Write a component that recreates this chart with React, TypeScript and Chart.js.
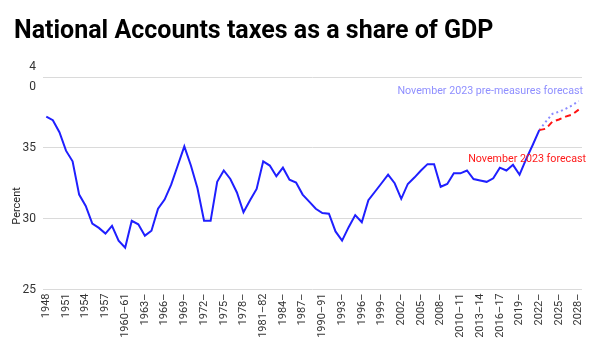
import { useEffect, useRef } from "react";
import { Chart, registerables } from "chart.js";

Chart.register(...registerables);

const TITLE = "National Accounts taxes as a share of GDP";
const Y_TITLE = "Percent";

const categories = [
  "1948", "1949", "1950", "1951", "1952", "1953", "1954", "1955", "1956", "1957", "1958", "1959",
  "1960–61", "1961–62", "1962–63", "1963–64", "1964–65", "1965–66", "1966–67", "1967–68", "1968–69",
  "1969–70", "1970–71", "1971–72", "1972–73", "1973–74", "1974–75", "1975–76", "1976–77", "1977–78",
  "1978–79", "1979–80", "1980–81", "1981–82", "1982–83", "1983–84", "1984–85", "1985–86", "1986–87",
  "1987–88", "1988–89", "1989–90", "1990–91", "1991–92", "1992–93", "1993–94", "1994–95", "1995–96",
  "1996–97", "1997–98", "1998–99", "1999–00", "2000–01", "2001–02", "2002–03", "2003–04", "2004–05",
  "2005–06", "2006–07", "2007–08", "2008–09", "2009–10", "2010", "2010–11", "2011–12", "2012–13",
  "2013–14", "2014–15", "2015–16", "2016–17", "2017–18", "2018–19", "2019–20", "2020–21", "2021–22",
  "2022–23", "2023–24", "2024–25", "2025–26", "2026–27", "2027–28", "2028–29",
];

const tickLabels = [
  "1948", "1951", "1954", "1957", "1960–61", "1963–", "1966–", "1969–", "1972–", "1975–",
  "1978–", "1981–82", "1984–", "1987–", "1990–91", "1993–", "1996–", "1999–", "2002–", "2005–",
  "2008–", "2010–11", "2013–14", "2016–17", "2019–", "2022–", "2025–", "2028–",
];

const outturn = [
  37.2, 36.95, 36.1, 34.8, 34.05, 31.7, 30.9, 29.65, 29.35, 28.95,
  29.5, 28.45, 27.95, 29.85, 29.6, 28.8, 29.15, 30.7, 31.35, 32.4,
  33.75, 35.1, 33.75, 32.15, 29.85, 29.85, 32.6, 33.4, 32.8, 31.85,
  30.45, 31.3, 32.1, 34.05, 33.75, 33.0, 33.6, 32.75, 32.55, 31.7,
  31.2, 30.7, 30.4, 30.35, 29.1, 28.45, 29.4, 30.25, 29.75, 31.3,
  31.9, 32.5, 33.1, 32.5, 31.4, 32.45, 32.9, 33.4, 33.85, 33.85,
  32.25, 32.45, 33.2, 33.2, 33.4, 32.8, 32.7, 32.6, 32.85, 33.6,
  33.4, 33.8, 33.1, 34.2, 35.2, 36.25,
  null, null, null, null, null, null,
];

const forecastStart = 75;
const forecastValues = [36.25, 36.35, 36.85, 37.0, 37.2, 37.35, 37.7];
const preMeasuresValues = [36.25, 36.85, 37.4, 37.55, 37.75, 38.0, 38.3];

const forecast = categories.map((_, i) =>
  i >= forecastStart ? forecastValues[i - forecastStart] : null
);
const preMeasures = categories.map((_, i) =>
  i >= forecastStart ? preMeasuresValues[i - forecastStart] : null
);

const yMin = 25;
const yMax = 40;
const yStep = 5;

const PRE_LABEL = "November 2023 pre-measures forecast";
const PRE_LABEL_VALUE = 39.0;
const FC_LABEL = "November 2023 forecast";
const FC_LABEL_VALUE = 34.17;
const Y_TITLE_VALUE = 30.9;

const annotationsPlugin = {
  id: "annotations",
  afterDraw(chart: any) {
    const { ctx, chartArea, scales } = chart;
    const y = scales.y;
    ctx.save();
    ctx.font = "10.7px Roboto";
    ctx.textBaseline = "middle";
    ctx.textAlign = "right";
    ctx.fillStyle = "#8f8fff";
    ctx.fillText(PRE_LABEL, chartArea.right + 1, y.getPixelForValue(PRE_LABEL_VALUE));
    ctx.fillStyle = "#ff1a1a";
    ctx.fillText(FC_LABEL, chartArea.right + 4, y.getPixelForValue(FC_LABEL_VALUE));
    ctx.restore();

    ctx.save();
    ctx.font = "11px Roboto";
    ctx.fillStyle = "#222";
    ctx.textAlign = "center";
    ctx.textBaseline = "middle";
    ctx.translate(17, y.getPixelForValue(Y_TITLE_VALUE));
    ctx.rotate(-Math.PI / 2);
    ctx.fillText(Y_TITLE, 0, 0);
    ctx.restore();
  },
};

export default function App() {
  const ref = useRef<HTMLCanvasElement>(null);

  useEffect(() => {
    document.body.style.margin = "0";
    const canvas = ref.current;
    if (!canvas) return;
    const chart = new Chart(canvas, {
      type: "line",
      data: {
        labels: categories,
        datasets: [
          {
            label: "Outturn",
            data: outturn,
            borderColor: "#1f1fff",
            borderWidth: 2,
            pointRadius: 0,
            tension: 0,
          },
          {
            label: "November 2023 forecast",
            data: forecast,
            borderColor: "#ff1414",
            borderWidth: 2,
            borderDash: [6, 4],
            pointRadius: 0,
            tension: 0,
          },
          {
            label: "November 2023 pre-measures forecast",
            data: preMeasures,
            borderColor: "#8a8aff",
            borderWidth: 2,
            borderDash: [2, 3],
            pointRadius: 0,
            tension: 0,
          },
        ],
      },
      options: {
        animation: false,
        responsive: true,
        maintainAspectRatio: false,
        layout: { padding: { left: 14, right: 18, top: 0, bottom: 0 } },
        plugins: {
          legend: { display: false },
          tooltip: { enabled: false },
          title: {
            display: true,
            text: TITLE,
            align: "start",
            color: "#000",
            font: { family: "Roboto", size: 25, weight: "bold", lineHeight: 1.2 },
            padding: { top: 17, bottom: 30 },
          },
        },
        scales: {
          x: {
            offset: true,
            grid: { display: false, drawTicks: false },
            border: { display: false },
            ticks: {
              autoSkip: false,
              maxRotation: 90,
              minRotation: 90,
              padding: 4,
              color: "#333",
              font: { family: "Roboto", size: 11 },
              callback: (_v: any, i: number) => (i % 3 === 0 ? tickLabels[i / 3] : ""),
            },
            afterFit: (scale: any) => {
              scale.height = 60.5;
            },
          },
          y: {
            min: yMin,
            max: yMax,
            grid: { color: "#dadada", drawTicks: false, lineWidth: 1 },
            border: { display: false },
            ticks: {
              stepSize: yStep,
              padding: 7,
              color: "#333",
              font: { family: "Roboto", size: 12, lineHeight: 1.6 },
              callback: (v: any) => (v === 40 ? ["4", "0"] : String(v)),
            },
            afterFit: (scale: any) => {
              scale.width = 29;
            },
          },
        },
      },
      plugins: [annotationsPlugin],
    });
    return () => chart.destroy();
  }, []);

  return (
    <div style={{ width: 600, height: 350, position: "relative", background: "#fff" }}>
      <canvas ref={ref} />
    </div>
  );
}
